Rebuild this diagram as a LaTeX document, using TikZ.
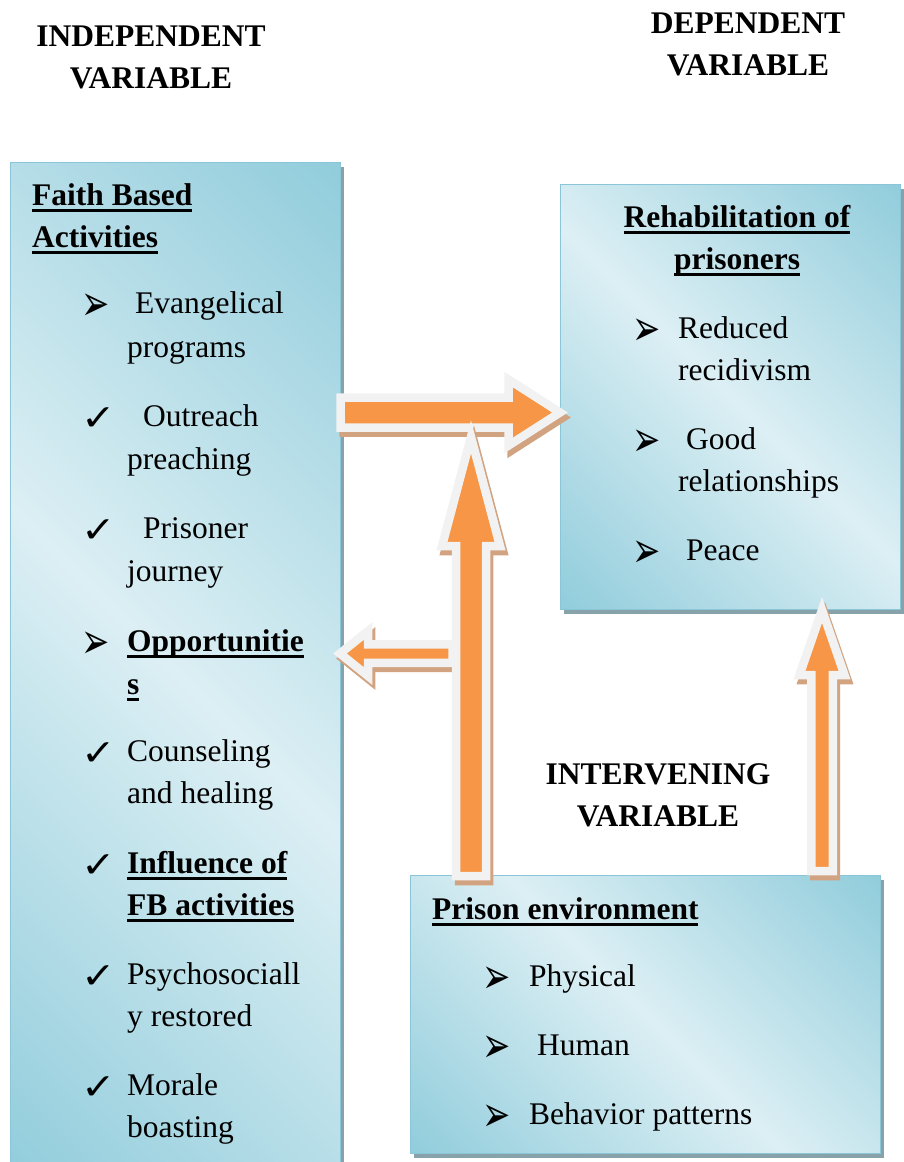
\documentclass[tikz,border=0pt]{standalone}
\usepackage{fontspec}
\usepackage{graphicx}
\setmainfont{Liberation Serif}
\newfontfamily\symfont{DejaVu Sans}
\newfontfamily\symbold{DejaVu Sans Bold}
\usetikzlibrary{shadows}

\definecolor{aqdark}{RGB}{146,205,220}
\definecolor{aqlight}{RGB}{220,239,244}
\definecolor{aqline}{RGB}{138,198,215}
\definecolor{boxshade}{RGB}{136,162,170}
\definecolor{arrfill}{RGB}{247,150,70}
\definecolor{arrrim}{RGB}{242,242,242}
\definecolor{arrshade}{RGB}{210,163,128}

\pgfdeclarehorizontalshading{aquafade}{100bp}{color(0bp)=(aqdark); color(15bp)=(aqdark); color(50bp)=(aqlight); color(85bp)=(aqdark); color(100bp)=(aqdark)}

% heavy underline for the headings
\newcommand{\ul}[1]{\setbox0=\hbox{\bfseries #1}\rlap{\rule[-7pt]{\wd0}{2.6pt}}\box0}
\newcommand{\arrbul}{\raisebox{-7pt}{\symfont\scalebox{1.35}[2.0]{➢}}}
\newcommand{\chkbul}{\raisebox{-4pt}{\symbold\scalebox{1.65}[1.45]{✓}}}

% block arrow: tail, angle, length, shaft half width, head half width, head length
\newcommand{\blockarrow}[6]{%
	\foreach \dx/\dy/\sty in {3/5/arrshadow,0/0/arrbody}{
		\begin{scope}[shift={(#1)},shift={(\dx,\dy)},rotate=#2]
			\path[\sty] (0,-#4) -- (#3-#6,-#4) -- (#3-#6,-#5) -- (#3,0)
				-- (#3-#6,#5) -- (#3-#6,#4) -- (0,#4) -- cycle;
		\end{scope}
	}%
}

\begin{document}
\begin{tikzpicture}[x=1pt,y=-1pt]

% ----------------------------
% Styles
% ----------------------------
\tikzset{
	varbox/.style={draw=aqline,line width=1.2pt,shading=aquafade,shading angle=45,
		anchor=north west,inner sep=0pt,
		drop shadow={shadow xshift=3pt,shadow yshift=-4pt,fill=boxshade,opacity=1}},
	body/.style={anchor=base west,inner sep=0pt,font=\fontsize{31.5}{38}\selectfont},
	title/.style={anchor=base,inner sep=0pt,font=\fontsize{31.5}{38}\selectfont\bfseries},
	bul/.style={anchor=base west,inner sep=0pt,font=\fontsize{25}{30}\selectfont},
	arrbody/.style={fill=arrfill,draw=arrrim,line width=8.5pt,line join=miter},
	arrshadow/.style={fill=arrshade,draw=arrshade,line width=8.5pt,line join=miter}
}

\useasboundingbox (0,0) rectangle (904,1162);

% ============================================================
% Variable boxes
% ============================================================
\node[varbox,minimum width=330,minimum height=1020] (fba) at (10,162) {};
\node[varbox,minimum width=340,minimum height=425] (rehab) at (560,184) {};
\node[varbox,minimum width=470,minimum height=278] (envt) at (410,875) {};

% ============================================================
% Block arrows
% ============================================================
\coordinate (fbaout) at (340.5,412.5);
\coordinate (backin) at (452.5,653.5);
\coordinate (envup) at (471,876);
\coordinate (envright) at (822,871);

\blockarrow{fbaout}{0}{219.5}{15}{33}{51.5}
\blockarrow{backin}{180}{112.5}{9.25}{22.5}{28}
\blockarrow{envup}{90}{439}{15}{29}{109}
\blockarrow{envright}{90}{261}{10.75}{22.5}{65}

% ============================================================
% Headings
% ============================================================
\node[title] (ivar1) at (151,46) {INDEPENDENT};
\node[title] (ivar2) at (151,88) {VARIABLE};
\node[title] (dvar1) at (748,33) {DEPENDENT};
\node[title] (dvar2) at (748,75) {VARIABLE};
\node[title] (mvar1) at (658,784) {INTERVENING};
\node[title] (mvar2) at (658,826) {VARIABLE};

% ============================================================
% Faith based activities (left)
% ============================================================
\foreach \nm/\x/\y/\t in {
	fb1/32/205/{\ul{Faith Based}}, fb2/32/247/{\ul{Activities}},
	ev1/135/313/Evangelical, ev2/127/357/programs,
	ou1/143/426/Outreach, ou2/127/469/preaching,
	pj1/143/538/Prisoner, pj2/127/581/journey,
	op1/127/651/{\ul{Opportunitie}}, op2/127/694/{\ul{s}},
	co1/127/761/Counseling, co2/127/803/{and healing},
	in1/127/873/{\ul{Influence of}}, in2/127/915/{\ul{FB activities}},
	ps1/127/984/Psychosociall, ps2/127/1026/{y restored},
	mo1/127/1095/Morale, mo2/127/1137/boasting}
	\node[body] (\nm) at (\x,\y) {\t};

\foreach \nm/\y/\b in {bev/313/\arrbul, bou/426/\chkbul, bpj/538/\chkbul,
	bop/651/\arrbul, bco/761/\chkbul, bin/873/\chkbul, bps/984/\chkbul, bmo/1095/\chkbul}
	\node[bul] (\nm) at (81,\y) {\b};

% ============================================================
% Rehabilitation of prisoners (right)
% ============================================================
\node[title,font=\fontsize{31.5}{38}\selectfont] (rp1) at (737,227) {\ul{Rehabilitation of}};
\node[title,font=\fontsize{31.5}{38}\selectfont] (rp2) at (737,269) {\ul{prisoners}};

\foreach \nm/\x/\y/\t in {rd1/678/338/Reduced, rd2/678/380/recidivism,
	gd1/686/449/Good, gd2/678/491/relationships, pc1/686/560/Peace}
	\node[body] (\nm) at (\x,\y) {\t};

\foreach \nm/\y in {brd/338, bgd/449, bpc/560}
	\node[bul] (\nm) at (632,\y) {\arrbul};

% ============================================================
% Prison environment (bottom)
% ============================================================
\node[body] (pe) at (432,919) {\ul{Prison environment}};
\foreach \nm/\x/\y/\t in {ph/529/986/Physical, hu/537/1055/Human, bp/529/1124/{Behavior patterns}}
	\node[body] (\nm) at (\x,\y) {\t};
\foreach \nm/\y in {bph/986, bhu/1055, bbp/1124}
	\node[bul] (\nm) at (482,\y) {\arrbul};

\end{tikzpicture}
\end{document}
